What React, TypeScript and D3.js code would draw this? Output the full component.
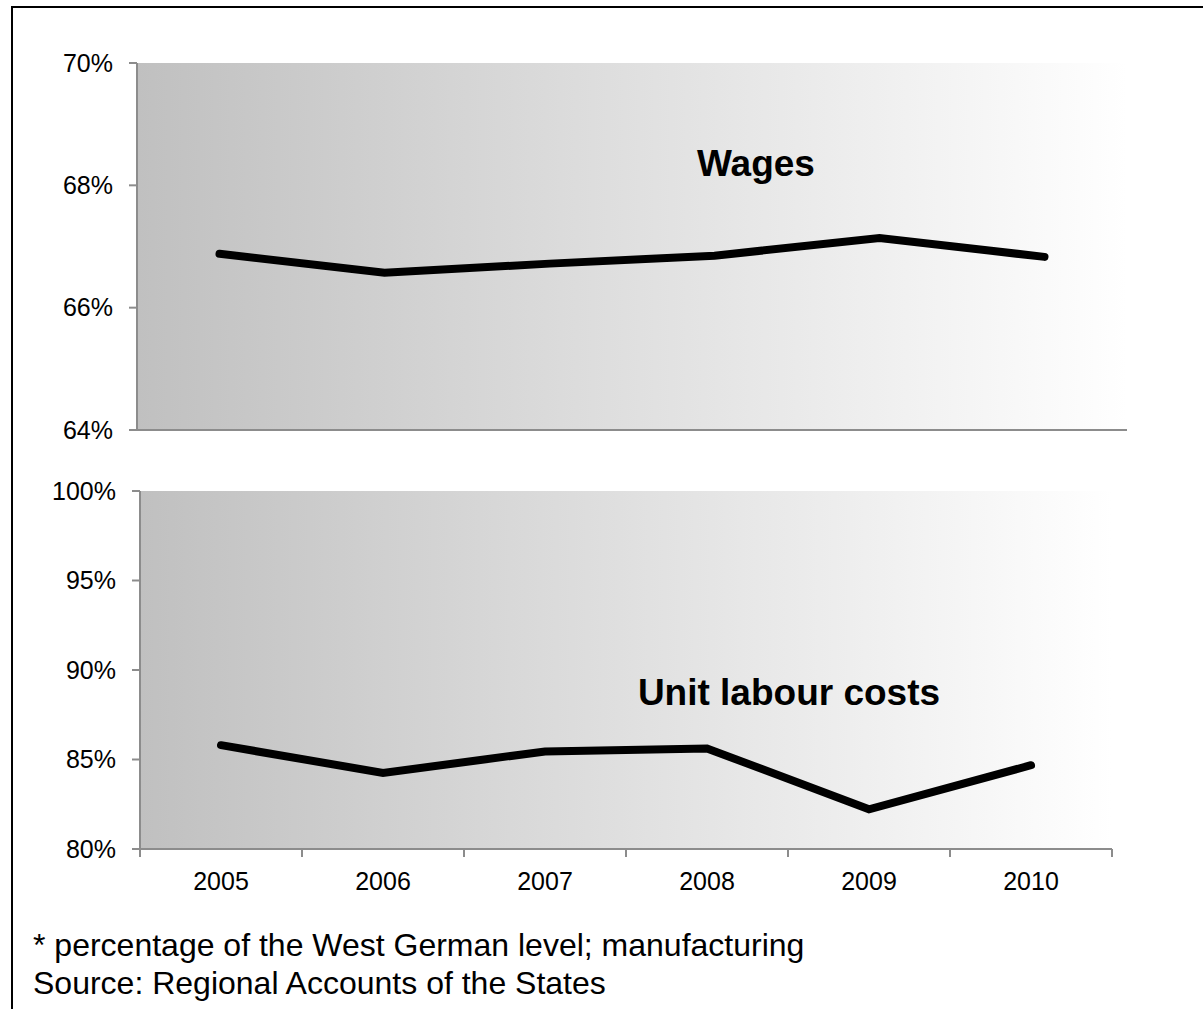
import React from "react";
import * as d3 from "d3";

const years = ["2005", "2006", "2007", "2008", "2009", "2010"];
const wages = [66.88, 66.57, 66.72, 66.85, 67.14, 66.83];
const unitLabourCosts = [85.8, 84.25, 85.45, 85.62, 82.22, 84.68];
const wagesTicks = [64, 66, 68, 70];
const ulcTicks = [80, 85, 90, 95, 100];
const footnotes = [
  "* percentage of the West German level; manufacturing",
  "Source: Regional Accounts of the States",
];

const FONT = "'Liberation Sans', Arial, Helvetica, sans-serif";
const AXIS = "#8c8c8c";

type PanelProps = {
  id: string;
  left: number;
  right: number;
  top: number;
  bottom: number;
  domain: [number, number];
  ticks: number[];
  values: number[];
  title: string;
  titleX: number;
  titleY: number;
  xTicks: boolean;
};

function Panel(p: PanelProps) {
  const x = d3.scaleBand<string>().domain(years).range([p.left, p.right]);
  const y = d3.scaleLinear().domain(p.domain).range([p.bottom, p.top]);
  const line = d3
    .line<number>()
    .x((_, i) => (x(years[i]) as number) + x.bandwidth() / 2)
    .y((d) => y(d));
  const boundaries = years.map((yr) => x(yr) as number).concat([p.right]);
  return (
    <g>
      <defs>
        <linearGradient id={p.id} x1="0" y1="0" x2="1" y2="0">
          <stop offset="0" stopColor="#c0c0c0" />
          <stop offset="1" stopColor="#ffffff" />
        </linearGradient>
      </defs>
      <rect
        x={p.left}
        y={p.top}
        width={p.right - p.left}
        height={p.bottom - p.top}
        fill={`url(#${p.id})`}
      />
      <line x1={p.left} x2={p.left} y1={p.top} y2={p.bottom} stroke={AXIS} strokeWidth={2} />
      {p.ticks.map((t) => (
        <g key={t}>
          <line x1={p.left - 8} x2={p.left} y1={y(t)} y2={y(t)} stroke={AXIS} strokeWidth={2} />
          <text
            x={p.left - 24}
            y={y(t)}
            dy="0.35em"
            textAnchor="end"
            fontFamily={FONT}
            fontSize={25}
            fill="#000"
          >
            {t}%
          </text>
        </g>
      ))}
      <line x1={p.left - 8} x2={p.right} y1={p.bottom} y2={p.bottom} stroke={AXIS} strokeWidth={2} />
      {p.xTicks &&
        boundaries.map((b, i) => (
          <line key={i} x1={b} x2={b} y1={p.bottom} y2={p.bottom + 8} stroke={AXIS} strokeWidth={2} />
        ))}
      {p.xTicks &&
        years.map((yr) => (
          <text
            key={yr}
            x={(x(yr) as number) + x.bandwidth() / 2}
            y={890}
            textAnchor="middle"
            fontFamily={FONT}
            fontSize={25}
            fill="#000"
          >
            {yr}
          </text>
        ))}
      <path
        d={line(p.values) || ""}
        fill="none"
        stroke="#000"
        strokeWidth={8}
        strokeLinecap="round"
        strokeLinejoin="miter"
      />
      <text
        x={p.titleX}
        y={p.titleY}
        textAnchor="middle"
        fontFamily={FONT}
        fontSize={37}
        fontWeight="bold"
        fill="#000"
      >
        {p.title}
      </text>
    </g>
  );
}

export default function App() {
  return (
    <svg
      width={1203}
      height={1009}
      style={{ position: "absolute", left: 0, top: 0, background: "#fff" }}
    >
      <rect x={0} y={0} width={1203} height={1009} fill="#fff" />
      <rect x={12} y={7} width={1205} height={1020} fill="none" stroke="#000" strokeWidth={2} />
      <Panel
        id="gTop"
        left={137}
        right={1127}
        top={63}
        bottom={430}
        domain={[64, 70]}
        ticks={wagesTicks}
        values={wages}
        title="Wages"
        titleX={756}
        titleY={176}
        xTicks={false}
      />
      <Panel
        id="gBottom"
        left={140}
        right={1112}
        top={491}
        bottom={849}
        domain={[80, 100]}
        ticks={ulcTicks}
        values={unitLabourCosts}
        title="Unit labour costs"
        titleX={789}
        titleY={705}
        xTicks={true}
      />
      {footnotes.map((f, i) => (
        <text key={i} x={33} y={956 + i * 38} fontFamily={FONT} fontSize={32} fill="#000">
          {f}
        </text>
      ))}
    </svg>
  );
}
